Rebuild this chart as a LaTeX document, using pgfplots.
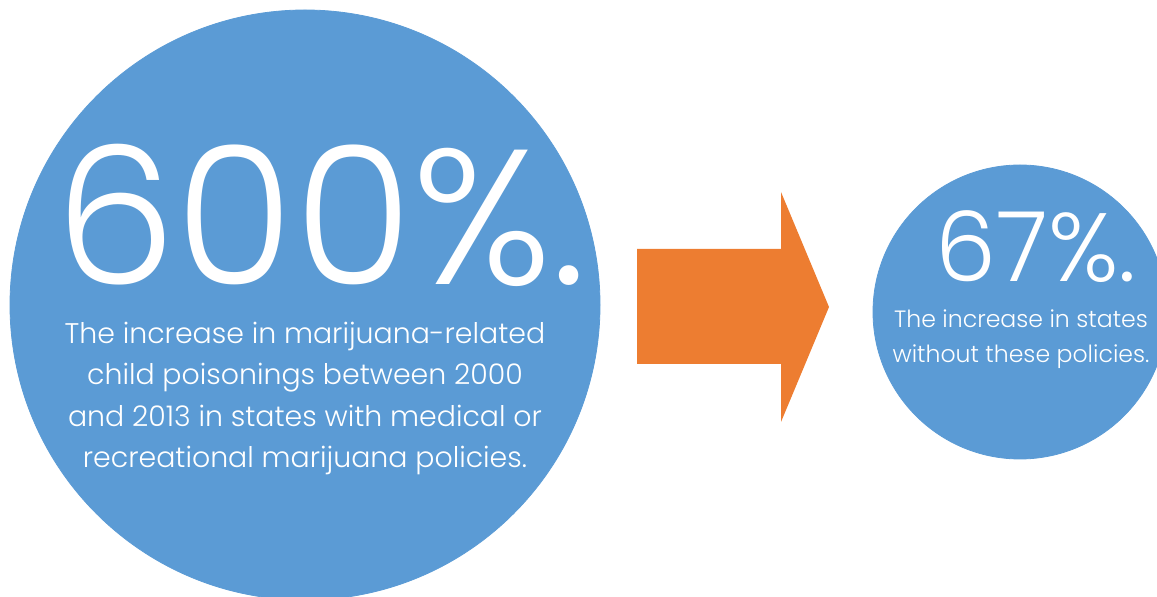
\documentclass[border=0pt]{standalone}
\usepackage{pgfplots}
\pgfplotsset{compat=1.18}
\usepackage{fontspec}
\setmainfont{Poppins}[UprightFont=* Light]
\definecolor{cblue}{HTML}{5B9BD5}
\definecolor{corange}{HTML}{ED7D31}
\begin{document}
\begin{tikzpicture}
\begin{axis}[
  scale only axis, width=578.5pt, height=298.5pt,
  xmin=0, xmax=1157, ymin=0, ymax=597, y dir=reverse,
  hide axis, clip marker paths=true, clip=true,
]
% circles: (x, y), radius in px via mark size
\addplot[only marks, mark=*, mark size=147.5pt, color=cblue, mark options={draw=none,fill=cblue}] coordinates {(305,305)};
\addplot[only marks, mark=*, mark size=73.5pt, color=cblue, mark options={draw=none,fill=cblue}] coordinates {(1020,312)};
% arrow
\addplot[fill=corange, draw=none] coordinates {(637,249) (781,249) (781,192) (829,307) (781,422) (781,364) (637,364)} -- cycle;
\node[anchor=base, text=white, inner sep=0pt, font=\fontsize{96}{96}\selectfont] at (axis cs:321,285) {600\%.};
\node[anchor=base, text=white, inner sep=0pt, align=center, font=\fontsize{14.2}{20.8}\selectfont] at (axis cs:305,468) {The increase in marijuana-related\\child poisonings between 2000\\and 2013 in states with medical or\\recreational marijuana policies.};
\node[anchor=base, text=white, inner sep=0pt, font=\fontsize{48.5}{48.5}\selectfont] at (axis cs:1036,282) {67\%.};
\node[anchor=base, text=white, inner sep=0pt, align=center, font=\fontsize{11.8}{17.5}\selectfont] at (axis cs:1021,363) {The increase in states\\without these policies.};
\end{axis}
\pgfresetboundingbox
\useasboundingbox (current axis.south west) rectangle (current axis.north east);
\end{tikzpicture}
\end{document}
